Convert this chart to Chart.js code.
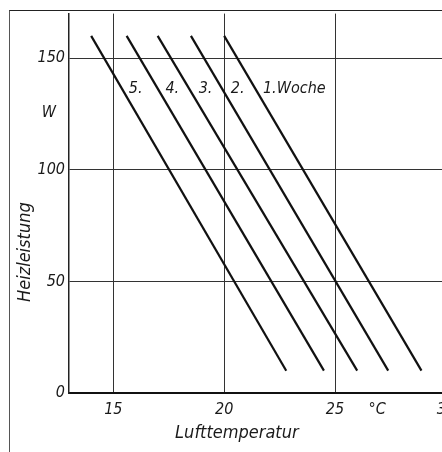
<!DOCTYPE html>
<html>
<head>
<meta charset="utf-8">
<script src="https://cdn.jsdelivr.net/npm/chart.js@4/dist/chart.umd.min.js"></script>
<style>
  body { margin: 0; background: #fff; overflow: hidden; }
  #frame { position: absolute; left: 9px; top: 10px; width: 470px; height: 470px;
           border-left: 1px solid #555; border-top: 1px solid #222; }
  #chart { position: absolute; left: 0; top: 0; }
</style>
</head>
<body>
<div id="frame"></div>
<canvas id="chart" width="462" height="452"></canvas>
<script>
// Heizleistung ueber Lufttemperatur, eine Gerade je Lebenswoche
var weeks = ['1.Woche', '2.', '3.', '4.', '5.'];
var tempStart = [20, 18.5, 17, 15.6, 14];     // °C bei 160 W
var tempEnd = [28.9, 27.4, 26, 24.5, 22.8];   // °C bei 10 W
var powerStart = 160;
var powerEnd = 10;

var xTicks = [15, 20, 25, 26.9, 30];
var xLabels = ['15', '20', '25', '°C', '30'];
var yTicks = [0, 50, 100, 125.5, 150];
var yLabels = ['0', '50', '100', 'W  ', '150'];

// where the week names sit (data coords, left edge of text)
var labelTemp = [21.75, 20.3, 18.85, 17.35, 15.7];
var labelPower = 136.5;

var fontFamily = '"DejaVu Sans Condensed", "Liberation Sans Narrow", sans-serif';
var ink = '#1a1a1a';

var datasets = weeks.map(function(w, i) {
  return {
    label: w,
    data: [{x: tempStart[i], y: powerStart}, {x: tempEnd[i], y: powerEnd}],
    borderColor: '#111',
    borderWidth: 2.2,
    pointRadius: 0,
    fill: false
  };
});

var weekLabels = {
  id: 'weekLabels',
  afterDatasetsDraw: function(chart) {
    var ctx = chart.ctx;
    var xs = chart.scales.x, ys = chart.scales.y;
    ctx.save();
    ctx.font = 'italic 16px ' + fontFamily;
    ctx.fillStyle = ink;
    ctx.textAlign = 'left';
    ctx.textBaseline = 'middle';
    weeks.forEach(function(w, i) {
      ctx.fillText(w, xs.getPixelForValue(labelTemp[i]), ys.getPixelForValue(labelPower));
    });
    ctx.restore();
  }
};

new Chart(document.getElementById('chart'), {
  type: 'line',
  data: { datasets: datasets },
  options: {
    responsive: false,
    animation: false,
    layout: { padding: { top: 10, right: 12, bottom: 0, left: 0 } },
    plugins: { legend: { display: false }, tooltip: { enabled: false } },
    scales: {
      x: {
        type: 'linear',
        min: 13,
        max: 30,
        afterBuildTicks: function(s) { s.ticks = xTicks.map(function(v) { return {value: v}; }); },
        afterFit: function(s) { s.height = 59; },
        ticks: {
          autoSkip: false,
          maxRotation: 0,
          padding: 7,
          color: ink,
          font: { family: fontFamily, size: 16, style: 'italic' },
          callback: function(v, i) { return xLabels[i]; }
        },
        grid: {
          drawTicks: false,
          color: function(c) { return c.tick && c.tick.value === 26.9 ? 'rgba(0,0,0,0)' : '#333'; },
          lineWidth: 1
        },
        border: { color: '#111', width: 2 },
        title: {
          display: true,
          text: 'Lufttemperatur        ',
          color: ink,
          padding: { top: 0, bottom: 8 },
          font: { family: fontFamily, size: 18, style: 'italic' }
        }
      },
      y: {
        type: 'linear',
        min: 0,
        max: 170,
        afterBuildTicks: function(s) { s.ticks = yTicks.map(function(v) { return {value: v}; }); },
        afterFit: function(s) { s.width = 69; },
        ticks: {
          autoSkip: false,
          padding: 4,
          color: ink,
          font: { family: fontFamily, size: 16, style: 'italic' },
          callback: function(v, i) { return yLabels[i]; }
        },
        grid: {
          drawTicks: false,
          color: function(c) { return c.tick && (c.tick.value === 125.5 || c.tick.value === 0) ? 'rgba(0,0,0,0)' : '#333'; },
          lineWidth: 1
        },
        border: { color: '#222', width: 1.5 },
        title: {
          display: true,
          text: 'Heizleistung                   ',
          color: ink,
          padding: { top: 15, bottom: 0 },
          font: { family: fontFamily, size: 18, style: 'italic' }
        }
      }
    }
  },
  plugins: [weekLabels]
});
</script>
</body>
</html>
